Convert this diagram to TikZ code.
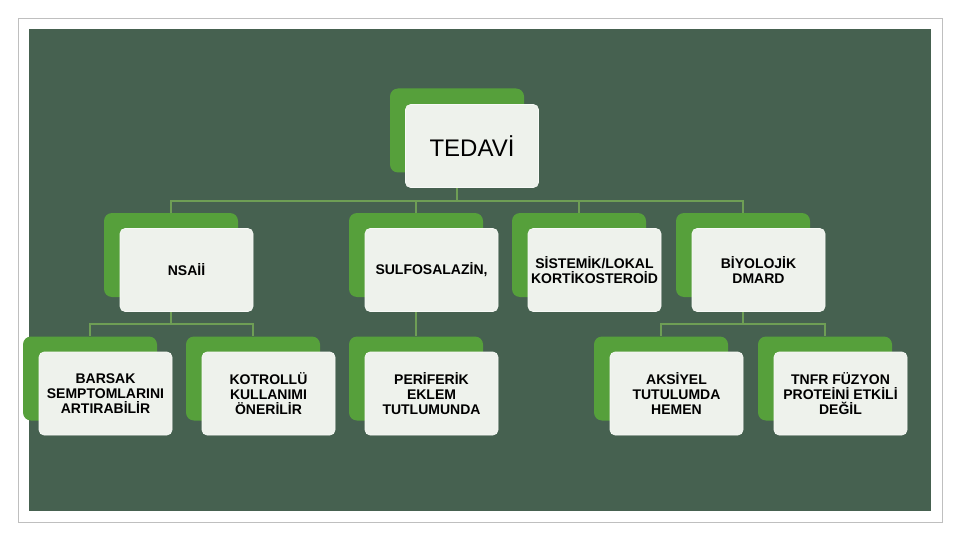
\documentclass[tikz,border=0pt]{standalone}
\usepackage{fontspec}
\setmainfont{Liberation Sans}
\usetikzlibrary{positioning}
\usetikzlibrary{backgrounds}

\definecolor{slide}{HTML}{466150}
\definecolor{leaf}{HTML}{56A03B}
\definecolor{card}{HTML}{EEF2EC}
\definecolor{twig}{HTML}{6E9E55}

\begin{document}
\begin{tikzpicture}[x=1pt, y=-1pt,
back/.style = {rectangle, rounded corners=8pt, fill=leaf, inner sep=0pt, minimum width=134pt, minimum height=84pt},
front/.style = {rectangle, rounded corners=5pt, fill=card, draw=white!60!card, line width=0.6pt, inner sep=0pt, minimum width=133pt, minimum height=83pt, align=center, font=\bfseries\fontsize{14}{15}\selectfont},
branch/.style = {draw=twig, line width=1.2pt}]

\useasboundingbox (0,0) rectangle (960,540);

% top
\node[back] (tedavi back) at (457,130.5) {};
\node[front, font=\fontsize{24}{28}\selectfont] (tedavi) at (472,146) {TEDAVİ};

% second row
\node[back] (nsaii back) at (171,255) {};
\node[front] (nsaii) at (186.5,270) {NSAİİ};
\node[back] (sulfo back) at (416,255) {};
\node[front] (sulfo) at (431.5,270) {SULFOSALAZİN,};
\node[back] (sistemik back) at (579,255) {};
\node[front] (sistemik) at (594.5,270) {SİSTEMİK/LOKAL\\KORTİKOSTEROİD};
\node[back] (biyo back) at (743,255) {};
\node[front] (biyo) at (758.5,270) {BİYOLOJİK\\DMARD};

% third row
\node[back] (barsak back) at (90,378.5) {};
\node[front] (barsak) at (105.5,393.5) {BARSAK\\SEMPTOMLARINI\\ARTIRABİLİR};
\node[back] (kotrollu back) at (253,378.5) {};
\node[front] (kotrollu) at (268.5,393.5) {KOTROLLÜ\\KULLANIMI\\ÖNERİLİR};
\node[back] (periferik back) at (416,378.5) {};
\node[front] (periferik) at (431.5,393.5) {PERİFERİK\\EKLEM\\TUTLUMUNDA};
\node[back] (aksiyel back) at (661,378.5) {};
\node[front] (aksiyel) at (676.5,393.5) {AKSİYEL\\TUTULUMDA\\HEMEN};
\node[back] (tnfr back) at (825,378.5) {};
\node[front] (tnfr) at (840.5,393.5) {TNFR FÜZYON\\PROTEİNİ ETKİLİ\\DEĞİL};

\coordinate (top bus) at (457,201);
\coordinate (nsaii bus) at (171,324);
\coordinate (biyo bus) at (743,324);

\begin{scope}[on background layer]
\draw[black!25, fill=white] (18,18) rectangle (942,522);
\fill[slide] (29,29) rectangle (931,511);
\draw[branch] (tedavi back) -- (top bus);
\draw[branch] (top bus) -| (nsaii back);
\draw[branch] (top bus) -| (sulfo back);
\draw[branch] (top bus) -| (sistemik back);
\draw[branch] (top bus) -| (biyo back);
\draw[branch] (nsaii back) -- (nsaii bus);
\draw[branch] (nsaii bus) -| (barsak back);
\draw[branch] (nsaii bus) -| (kotrollu back);
\draw[branch] (sulfo back) -- (periferik back);
\draw[branch] (biyo back) -- (biyo bus);
\draw[branch] (biyo bus) -| (aksiyel back);
\draw[branch] (biyo bus) -| (tnfr back);
\end{scope}

\end{tikzpicture}
\end{document}
